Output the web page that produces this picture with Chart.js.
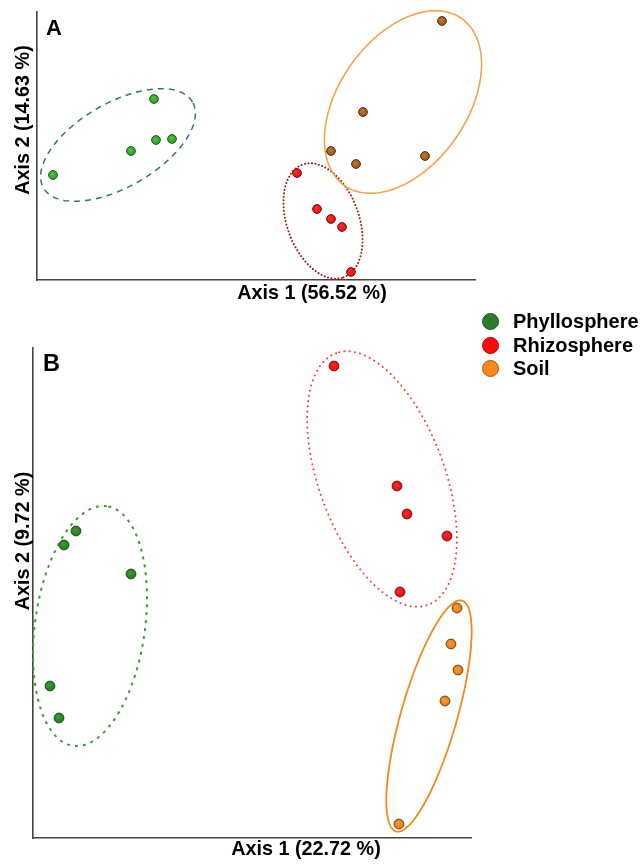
<!DOCTYPE html>
<html>
<head>
<meta charset="utf-8">
<script src="https://cdn.jsdelivr.net/npm/chart.js@4.4.0/dist/chart.umd.min.js"></script>
<style>
  body { margin:0; background:#fff; font-family:"Liberation Sans", Arial, Helvetica, sans-serif; }
  #wrap { position:relative; width:644px; height:865px; overflow:hidden; }
  canvas { position:absolute; left:0; }
  .lbl { position:absolute; font-weight:bold; color:#000; line-height:1; white-space:nowrap; }
  .leg { position:absolute; left:482px; font-size:20px; font-weight:bold; line-height:20px; white-space:nowrap; }
  .leg span.dot { display:inline-block; width:17px; height:17px; border-radius:50%; vertical-align:top; margin:2px 14px 0 0; box-sizing:border-box; }
</style>
</head>
<body>
<div id="wrap">
  <canvas id="chartA" width="644" height="310" style="top:0"></canvas>
  <canvas id="chartB" width="644" height="545" style="top:320px"></canvas>
  <div class="lbl" style="left:46px;top:17px;font-size:22px">A</div>
  <div class="lbl" style="left:43px;top:352px;font-size:23.5px">B</div>
  <div class="lbl" id="axA1" style="left:312px;top:283px;font-size:19.8px;transform:translateX(-50%)"></div>
  <div class="lbl" id="axA2" style="left:23px;top:120px;font-size:19.8px;transform:translate(-50%,-50%) rotate(-90deg)"></div>
  <div class="lbl" id="axB1" style="left:306px;top:839px;font-size:19.8px;transform:translateX(-50%)"></div>
  <div class="lbl" id="axB2" style="left:23px;top:541px;font-size:19.8px;transform:translate(-50%,-50%) rotate(-90deg)"></div>
  <div id="legend"></div>
</div>
<script>
// groups and axis labels
const groups = ['Phyllosphere', 'Rhizosphere', 'Soil'];
const axisTitlesA = ['Axis 1 (56.52 %)', 'Axis 2 (14.63 %)'];
const axisTitlesB = ['Axis 1 (22.72 %)', 'Axis 2 (9.72 %)'];

// panel A (PCoA coordinates)
const aPhylloX = [-0.368, -0.212, -0.162, -0.130, -0.166];
const aPhylloY = [-0.090, -0.042, -0.020, -0.018, 0.062];
const aRhizoX  = [0.120, 0.160, 0.188, 0.210, 0.228];
const aRhizoY  = [-0.086, -0.158, -0.178, -0.194, -0.284];
const aSoilX   = [0.410, 0.252, 0.188, 0.238, 0.376];
const aSoilY   = [0.218, 0.036, -0.042, -0.068, -0.052];
// ellipses A: [centerX, centerY, semiMajor, semiMinor, angleDeg]
const aPhylloEll = [-0.238, -0.030, 0.172, 0.084, 30];
const aRhizoEll  = [0.172, -0.182, 0.120, 0.072, -70];
const aSoilEll   = [0.332, 0.056, 0.204, 0.128, 55];

// panel B
const bPhylloX = [-0.314, -0.338, -0.204, -0.366, -0.348];
const bPhylloY = [0.114, 0.086, 0.028, -0.196, -0.260];
const bRhizoX  = [0.202, 0.328, 0.348, 0.428, 0.334];
const bRhizoY  = [0.444, 0.204, 0.148, 0.104, -0.008];
const bSoilX   = [0.448, 0.436, 0.450, 0.424, 0.332];
const bSoilY   = [-0.040, -0.112, -0.164, -0.226, -0.472];
const bPhylloEll = [-0.286, -0.076, 0.242, 0.110, 82];
const bRhizoEll  = [0.298, 0.218, 0.268, 0.126, 110];
const bSoilEll   = [0.392, -0.256, 0.240, 0.056, 74];

const legendColors = ['#2b7d2b', '#ff0a0a', '#f7891f'];
const legendBorders = ['#1d5a1d', '#b30000', '#a85c12'];

document.getElementById('axA1').textContent = axisTitlesA[0];
document.getElementById('axA2').textContent = axisTitlesA[1];
document.getElementById('axB1').textContent = axisTitlesB[0];
document.getElementById('axB2').textContent = axisTitlesB[1];

// html legend
const legendEl = document.getElementById('legend');
const legendTops = [311, 334.5, 358];
groups.forEach((g, i) => {
    const d = document.createElement('div');
    d.className = 'leg';
    d.style.top = legendTops[i] + 'px';
    d.innerHTML = '<span class="dot" style="background:' + legendColors[i] + ';border:1px solid ' + legendBorders[i] + '"></span>' + g;
    legendEl.appendChild(d);
});

function toPoints(xs, ys){
    return xs.map((x, i) => ({x: x, y: ys[i]}));
}

// draws confidence ellipses through the chart scales
function ellipsePlugin(items){
    return {
        id: 'ellipses',
        beforeDatasetsDraw(chart){
            const ctx = chart.ctx;
            const sx = chart.scales.x, sy = chart.scales.y;
            items.forEach(it => {
                const [cx, cy, a, b, ang] = it.e;
                const r = ang * Math.PI / 180;
                ctx.save();
                ctx.strokeStyle = it.color;
                ctx.lineWidth = it.width;
                ctx.setLineDash(it.dash);
                ctx.lineCap = it.cap || 'butt';
                ctx.beginPath();
                for(let i = 0; i <= 240; i++){
                    const t = i / 240 * Math.PI * 2;
                    const dx = a * Math.cos(t), dy = b * Math.sin(t);
                    const px = sx.getPixelForValue(cx + dx * Math.cos(r) - dy * Math.sin(r));
                    const py = sy.getPixelForValue(cy + dx * Math.sin(r) + dy * Math.cos(r));
                    if(i === 0) ctx.moveTo(px, py); else ctx.lineTo(px, py);
                }
                ctx.stroke();
                ctx.restore();
            });
        }
    };
}

function axes(xmin, xmax, ymin, ymax){
    const common = {
        grid: {display: false, drawTicks: false},
        ticks: {display: false},
        border: {display: true, color: '#444', width: 1.6},
    };
    return {
        x: Object.assign({type: 'linear', position: 'bottom', min: xmin, max: xmax}, common),
        y: Object.assign({type: 'linear', position: 'left', min: ymin, max: ymax}, common),
    };
}

// shaded sphere-like marker fill
function shade(light, base, radius){
    return function(c){
        if(c.type !== 'data' || !c.raw) return base;
        const chart = c.chart;
        const px = chart.scales.x.getPixelForValue(c.raw.x);
        const py = chart.scales.y.getPixelForValue(c.raw.y);
        if(!isFinite(px) || !isFinite(py)) return base;
        const g = chart.ctx.createRadialGradient(px - 1, py - 1.2, 0.5, px, py, radius);
        g.addColorStop(0, light);
        g.addColorStop(1, base);
        return g;
    };
}

function ds(label, pts, light, fill, border, radius){
    return {
        label: label,
        data: pts,
        backgroundColor: shade(light, fill, radius),
        borderColor: border,
        borderWidth: 1,
        pointRadius: radius,
        clip: false,
    };
}

new Chart(document.getElementById('chartA').getContext('2d'), {
    type: 'scatter',
    data: {
        datasets: [
            ds(groups[0], toPoints(aPhylloX, aPhylloY), '#48c640', '#2c9a26', '#1f5e1c', 4.4),
            ds(groups[1], toPoints(aRhizoX, aRhizoY), '#ff3030', '#e00c0c', '#8a0c0c', 4.4),
            ds(groups[2], toPoints(aSoilX, aSoilY), '#c2742a', '#9a5616', '#4e2c0e', 4.4),
        ]
    },
    options: {
        responsive: false,
        animation: false,
        layout: {autoPadding: false, padding: {left: 37, top: 12, right: 169, bottom: 30}},
        plugins: {legend: {display: false}, tooltip: {enabled: false}},
        scales: axes(-0.4, 0.476, -0.3, 0.236),
    },
    plugins: [ellipsePlugin([
        {e: aPhylloEll, color: '#2f7a62', width: 1.5, dash: [6, 5]},
        {e: aRhizoEll, color: '#a51b1b', width: 2, dash: [0.1, 3.4], cap: 'round'},
        {e: aSoilEll, color: '#f6a24a', width: 1.6, dash: []},
    ])]
});

new Chart(document.getElementById('chartB').getContext('2d'), {
    type: 'scatter',
    data: {
        datasets: [
            ds(groups[0], toPoints(bPhylloX, bPhylloY), '#3a9a36', '#2a7a26', '#1a4e18', 4.9),
            ds(groups[1], toPoints(bRhizoX, bRhizoY), '#ff2a2a', '#dc1010', '#850c0c', 4.9),
            ds(groups[2], toPoints(bSoilX, bSoilY), '#f89a30', '#e07c16', '#70440f', 4.9),
        ]
    },
    options: {
        responsive: false,
        animation: false,
        layout: {autoPadding: false, padding: {left: 33, top: 28, right: 173, bottom: 27}},
        plugins: {legend: {display: false}, tooltip: {enabled: false}},
        scales: axes(-0.4, 0.476, -0.5, 0.48),
    },
    plugins: [ellipsePlugin([
        {e: bPhylloEll, color: '#3a9e36', width: 2, dash: [3, 5]},
        {e: bRhizoEll, color: '#ff3c3c', width: 2, dash: [0.1, 5.2], cap: 'round'},
        {e: bSoilEll, color: '#f08a1e', width: 1.8, dash: []},
    ])]
});
</script>
</body>
</html>
